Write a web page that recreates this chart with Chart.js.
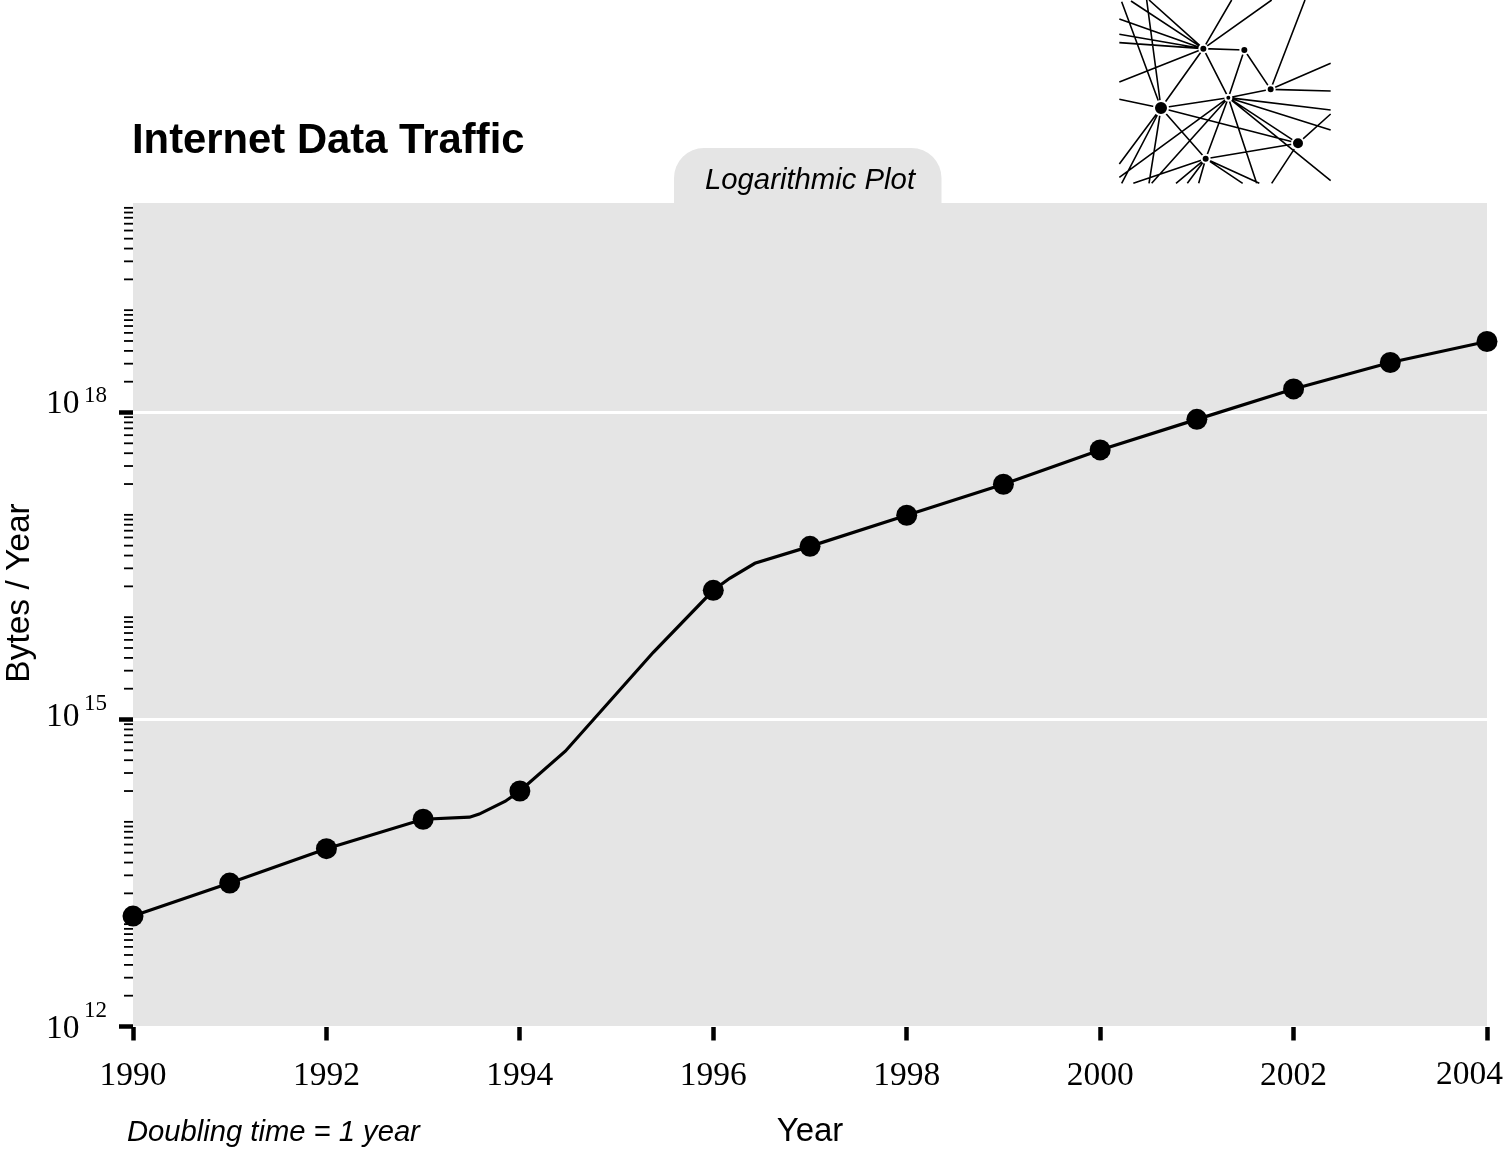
<!DOCTYPE html>
<html>
<head>
<meta charset="utf-8">
<title>Internet Data Traffic</title>
<script src="https://cdn.jsdelivr.net/npm/chart.js@4"></script>
<style>
  body { margin: 0; background: #fff; }
  #wrap { position: relative; width: 1504px; height: 1152px; overflow: hidden; }
  #trafficChart { position: absolute; left: 0; top: 0; }
  #netChart { position: absolute; left: 1100px; top: 0; }
</style>
</head>
<body>
<div id="wrap">
  <canvas id="trafficChart" width="1504" height="1152"></canvas>
  <canvas id="netChart" width="250" height="200"></canvas>
</div>
<script>
// yearly markers
const markerYears = [1990, 1991, 1992, 1993, 1994, 1996, 1997, 1998, 1999, 2000, 2001, 2002, 2003, 2004];
const markerBytes = [1.2e13, 2.52e13, 5.47e13, 1.06e14, 2.0e14, 1.83e16, 4.92e16, 9.9e16, 1.99e17, 4.31e17, 8.57e17, 1.7e18, 3.08e18, 4.94e18];

// the line has a few more vertices than markers
const lineYears = [1990, 1991, 1992, 1993, 1993.48, 1993.58, 1993.85, 1994, 1994.47, 1995.38, 1996, 1996.17, 1996.43, 1997, 1998, 1999, 2000, 2001, 2002, 2003, 2004];
const lineBytes = [1.2e13, 2.52e13, 5.47e13, 1.06e14, 1.11e14, 1.19e14, 1.59e14, 2.0e14, 4.9e14, 4.54e15, 1.83e16, 2.4e16, 3.36e16, 4.92e16, 9.9e16, 1.99e17, 4.31e17, 8.57e17, 1.7e18, 3.08e18, 4.94e18];

// y axis
const majorExps = [12, 15, 18];
const minorExps = [12, 13, 14, 15, 16, 17, 18, 19];
const minorMults = [2, 3, 4, 5, 6, 7, 8, 9];
const wholeExps = [13, 14, 16, 17, 19, 20];
const yMin = 1e12;
const yMax = 1.115e20;

// x axis
const xMin = 1990;
const xMax = 2004;
const xStep = 2;

// network picture in the corner, coordinates in its own 750 x 600 space
const netNodes = [
  { x: 310, y: 146, r: 4 }, { x: 433, y: 150, r: 4 }, { x: 512, y: 268, r: 4 },
  { x: 385, y: 293, r: 3 }, { x: 183, y: 324, r: 7 }, { x: 594, y: 430, r: 6 },
  { x: 317, y: 476, r: 4 }
];
const netEdges = [
  [93, 3, 310, 146], [147, 0, 310, 146], [58, 57, 310, 146], [58, 103, 310, 146], [58, 128, 310, 146],
  [58, 246, 310, 146], [395, 0, 310, 146], [515, 0, 310, 146], [310, 146, 433, 150], [310, 146, 385, 293],
  [310, 146, 183, 324],
  [65, 5, 183, 324], [140, 0, 183, 324], [58, 298, 183, 324], [183, 324, 385, 293], [183, 324, 594, 430],
  [183, 324, 317, 476], [58, 492, 183, 324], [65, 550, 183, 324], [147, 550, 183, 324],
  [433, 150, 385, 293], [433, 150, 512, 268], [512, 268, 615, 0], [512, 268, 692, 190], [512, 268, 692, 273],
  [512, 268, 385, 293],
  [385, 293, 692, 330], [385, 293, 692, 390], [385, 293, 692, 542], [385, 293, 594, 430], [385, 293, 470, 550],
  [385, 293, 317, 476], [385, 293, 58, 532], [385, 293, 155, 550],
  [594, 430, 692, 342], [594, 430, 317, 476], [594, 430, 515, 550],
  [317, 476, 100, 550], [317, 476, 228, 550], [317, 476, 262, 550], [317, 476, 296, 550], [317, 476, 428, 550],
  [317, 476, 478, 550]
];

const sans = '"Liberation Sans", Arial, sans-serif';
const serif = '"Liberation Serif", serif';

// gray panel, tab, free text and the small y ticks
const decorPlugin = {
  id: 'decor',
  beforeDraw(chart) {
    const ctx = chart.ctx;
    const a = chart.chartArea;
    ctx.save();
    ctx.fillStyle = '#e5e5e5';
    ctx.fillRect(a.left, a.top, a.right - a.left, a.bottom - a.top - 0.5);
    ctx.beginPath();
    ctx.roundRect(674, 148, 267.5, 60, [30, 30, 0, 0]);
    ctx.fill();
    ctx.restore();
  },
  afterDraw(chart) {
    const ctx = chart.ctx;
    const a = chart.chartArea;
    const yScale = chart.scales.y;
    const xScale = chart.scales.x;
    ctx.save();
    ctx.fillStyle = '#000';
    ctx.strokeStyle = '#000';

    // minor ticks
    ctx.lineWidth = 1.8;
    let minorValues = wholeExps.map(e => Math.pow(10, e));
    minorExps.forEach(e => minorMults.forEach(m => minorValues.push(m * Math.pow(10, e))));
    minorValues.forEach(v => {
      const py = yScale.getPixelForValue(v);
      ctx.beginPath();
      ctx.moveTo(a.left - 9, py);
      ctx.lineTo(a.left, py);
      ctx.stroke();
    });

    // y labels, 10 with a raised exponent
    const labelY = { 12: 1038, 15: 726, 18: 413 };
    const expY = { 12: 1017, 15: 710, 18: 402 };
    majorExps.forEach(e => {
      ctx.textAlign = 'left';
      ctx.textBaseline = 'alphabetic';
      ctx.font = '33.5px ' + serif;
      ctx.fillText('10', 46, labelY[e]);
      ctx.font = '23px ' + serif;
      ctx.fillText(String(e), 84, expY[e]);
    });

    // last x label is pulled in so it stays on the page
    ctx.font = '33.5px ' + serif;
    ctx.textAlign = 'right';
    ctx.fillText(String(xMax), 1503, 1084);

    ctx.textAlign = 'left';
    ctx.font = 'bold 41.8px ' + sans;
    ctx.fillText('Internet Data Traffic', 132, 153);

    ctx.textAlign = 'center';
    ctx.font = 'italic 29.3px ' + sans;
    ctx.fillText('Logarithmic Plot', (xScale.left + xScale.right) / 2, 189);

    ctx.textAlign = 'left';
    ctx.font = 'italic 29.2px ' + sans;
    ctx.fillText('Doubling time = 1 year', 127, 1141);

    // y title sits above the middle of the axis
    ctx.save();
    ctx.translate(29, 593);
    ctx.rotate(-Math.PI / 2);
    ctx.textAlign = 'center';
    ctx.font = '33.5px ' + sans;
    ctx.fillText('Bytes / Year', 0, 0);
    ctx.restore();

    ctx.restore();
  }
};

new Chart(document.getElementById('trafficChart'), {
  type: 'scatter',
  data: {
    datasets: [{
      data: markerYears.map((year, i) => ({ x: year, y: markerBytes[i] })),
      pointRadius: 10.5,
      pointBackgroundColor: '#000',
      pointBorderWidth: 0,
      showLine: false,
      clip: false
    }, {
      data: lineYears.map((year, i) => ({ x: year, y: lineBytes[i] })),
      showLine: true,
      borderColor: '#000',
      borderWidth: 3.2,
      tension: 0,
      pointRadius: 0,
      clip: false
    }]
  },
  options: {
    responsive: false,
    animation: false,
    layout: { padding: { left: 0, right: 17, top: 203, bottom: 0 } },
    plugins: { legend: { display: false }, tooltip: { enabled: false } },
    scales: {
      x: {
        type: 'linear',
        min: xMin,
        max: xMax,
        afterFit(scale) { scale.height = 125.5; },
        border: { display: false },
        grid: { drawOnChartArea: false, tickLength: 14, tickWidth: 4.5, tickColor: '#000' },
        ticks: {
          stepSize: xStep,
          autoSkip: false,
          maxRotation: 0,
          padding: 16,
          color: '#000',
          font: { family: serif, size: 33.5 },
          callback: v => (v === xMax ? '' : String(v))
        },
        title: {
          display: true,
          text: 'Year',
          color: '#000',
          font: { family: sans, size: 33 },
          padding: { top: 0, bottom: 0 }
        }
      },
      y: {
        type: 'logarithmic',
        min: yMin,
        max: yMax,
        afterBuildTicks(scale) { scale.ticks = majorExps.map(e => ({ value: Math.pow(10, e) })); },
        afterFit(scale) { scale.width = 133; },
        border: { display: false },
        grid: {
          color: ctx => (ctx.tick && ctx.tick.value > yMin ? '#fff' : 'rgba(0,0,0,0)'),
          lineWidth: 3,
          tickLength: 14,
          tickWidth: 4.5,
          tickColor: '#000'
        },
        ticks: { display: false, autoSkip: false }
      }
    }
  },
  plugins: [decorPlugin]
});

// edges are one dataset, broken by empty points
const edgePoints = [];
netEdges.forEach(e => {
  edgePoints.push({ x: e[0], y: e[1] }, { x: e[2], y: e[3] }, { x: NaN, y: NaN });
});

new Chart(document.getElementById('netChart'), {
  type: 'scatter',
  data: {
    datasets: [{
      data: netNodes.map(n => ({ x: n.x, y: n.y })),
      pointRadius: netNodes.map(n => n.r),
      pointBackgroundColor: '#000',
      pointBorderColor: '#fff',
      pointBorderWidth: 2
    }, {
      data: edgePoints,
      showLine: true,
      spanGaps: false,
      borderColor: '#000',
      borderWidth: 1.6,
      tension: 0,
      pointRadius: 0
    }]
  },
  options: {
    responsive: false,
    animation: false,
    layout: { padding: 0, autoPadding: false },
    plugins: { legend: { display: false }, tooltip: { enabled: false } },
    scales: {
      x: { type: 'linear', min: 0, max: 750, display: false },
      y: { type: 'linear', min: 0, max: 600, reverse: true, display: false }
    }
  }
});
</script>
</body>
</html>
